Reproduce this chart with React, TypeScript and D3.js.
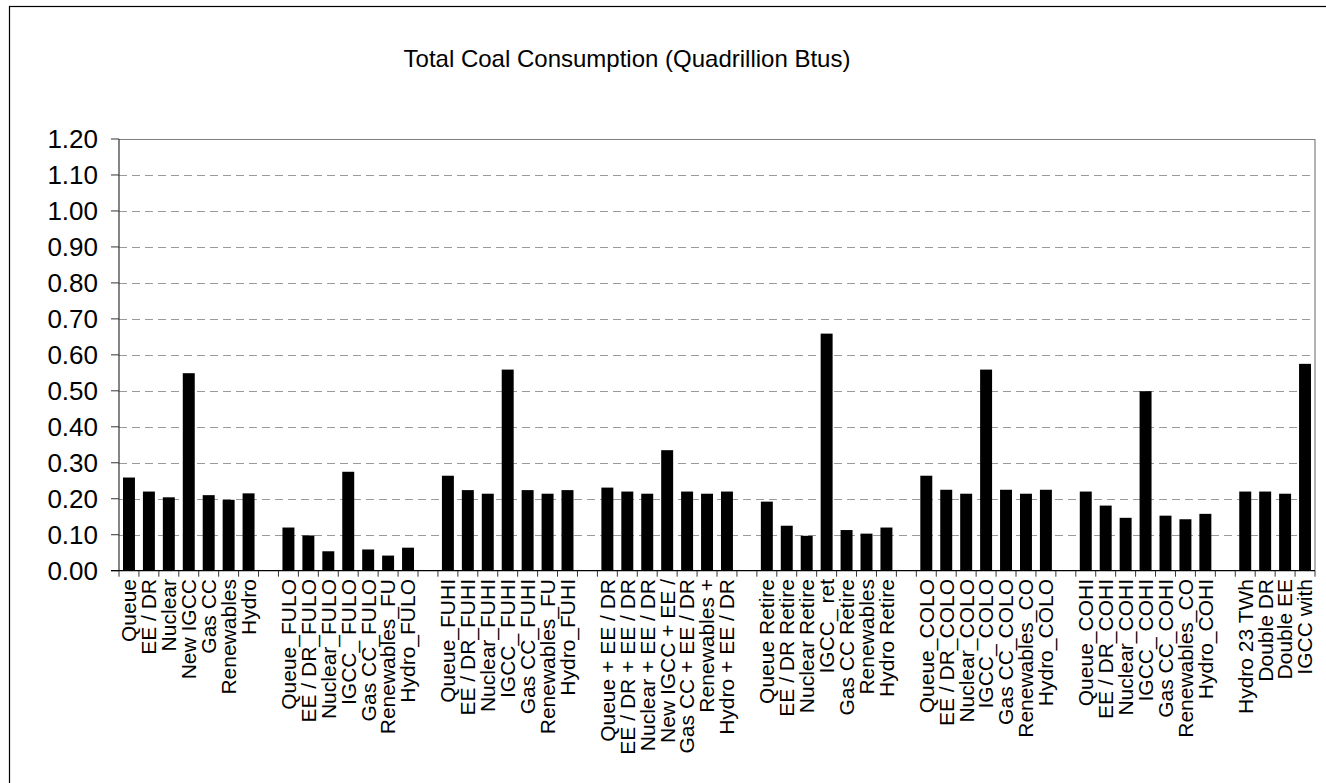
import React from "react";
import * as d3 from "d3";

const TITLE = "Total Coal Consumption (Quadrillion Btus)";

const baseLabels = ["Queue", "EE / DR", "Nuclear", "New IGCC", "Gas CC", "Renewables", "Hydro"];
const baseValues = [0.259, 0.22, 0.204, 0.549, 0.21, 0.197, 0.215];

const fuloLabels = ["Queue_FULO", "EE / DR_FULO", "Nuclear_FULO", "IGCC_ FULO", "Gas CC_FULO", "Renewables_FU", "Hydro_FULO"];
const fuloValues = [0.12, 0.098, 0.054, 0.275, 0.059, 0.042, 0.064];

const fuhiLabels = ["Queue_FUHI", "EE / DR_FUHI", "Nuclear_FUHI", "IGCC_ FUHI", "Gas CC_FUHI", "Renewables_FU", "Hydro_FUHI"];
const fuhiValues = [0.264, 0.224, 0.214, 0.559, 0.224, 0.214, 0.224];

const eedrLabels = ["Queue + EE / DR", "EE / DR + EE / DR", "Nuclear + EE / DR", "New IGCC + EE /", "Gas CC + EE / DR", "Renewables +", "Hydro + EE / DR"];
const eedrValues = [0.231, 0.22, 0.214, 0.335, 0.22, 0.214, 0.22];

const retireLabels = ["Queue Retire", "EE / DR Retire", "Nuclear Retire", "IGCC_ ret", "Gas CC Retire", "Renewables", "Hydro Retire"];
const retireValues = [0.192, 0.125, 0.097, 0.659, 0.113, 0.103, 0.12];

const coloLabels = ["Queue_COLO", "EE / DR_COLO", "Nuclear_COLO", "IGCC_ COLO", "Gas CC_COLO", "Renewables_CO", "Hydro_COLO"];
const coloValues = [0.264, 0.225, 0.214, 0.559, 0.225, 0.214, 0.225];

const cohiLabels = ["Queue_COHI", "EE / DR_COHI", "Nuclear_COHI", "IGCC_ COHI", "Gas CC_COHI", "Renewables_CO", "Hydro_COHI"];
const cohiValues = [0.22, 0.181, 0.147, 0.499, 0.153, 0.143, 0.158];

const otherLabels = ["Hydro 23 TWh", "Double DR", "Double EE", "IGCC with"];
const otherValues = [0.22, 0.22, 0.214, 0.575];

const yTickValues = [0, 0.1, 0.2, 0.3, 0.4, 0.5, 0.6, 0.7, 0.8, 0.9, 1.0, 1.1, 1.2];

const groups = [
  [baseLabels, baseValues],
  [fuloLabels, fuloValues],
  [fuhiLabels, fuhiValues],
  [eedrLabels, eedrValues],
  [retireLabels, retireValues],
  [coloLabels, coloValues],
  [cohiLabels, cohiValues],
  [otherLabels, otherValues],
] as [string[], number[]][];

type Slot = { label: string; value: number | null };
const slots: Slot[] = [];
groups.forEach(([labels, values], gi) => {
  labels.forEach((l, i) => slots.push({ label: l, value: values[i] }));
  if (gi < groups.length - 1) slots.push({ label: "", value: null });
});

const FONT = "'Liberation Sans', Arial, Helvetica, sans-serif";

export default function App() {
  const W = 1326;
  const H = 783;
  const left = 119;
  const right = 1315;
  const top = 139;
  const bottom = 570.7;

  const idx = slots.map((_, i) => i);
  const x = d3
    .scaleBand<number>()
    .domain(idx)
    .range([left, right])
    .paddingInner(0.4)
    .paddingOuter(0.2);
  const step = x.step();
  const y = d3.scaleLinear().domain([0, 1.2]).range([bottom, top]);

  const boundaries = d3.range(slots.length + 1).map((k) => left + k * step);

  return (
    <div style={{ position: "absolute", left: 0, top: 0, width: W, height: H, overflow: "hidden" }}>
      <svg width={W} height={H} style={{ display: "block", background: "#fff" }} fontFamily={FONT}>
        <rect x={0} y={0} width={W} height={H} fill="#fff" />
        {/* outer chart frame */}
        <rect x={9.5} y={6.5} width={1400} height={900} fill="none" stroke="#000" strokeWidth={1.2} />
        {/* title */}
        <text x={627} y={67} textAnchor="middle" fontSize={24} fill="#000">
          {TITLE}
        </text>
        {/* gridlines */}
        {yTickValues
          .filter((v) => v > 0 && v < 1.2)
          .map((v) => (
            <line
              key={"g" + v}
              x1={left}
              x2={right}
              y1={Math.round(y(v)) + 0.5}
              y2={Math.round(y(v)) + 0.5}
              stroke="#9a9a9a"
              strokeWidth={1}
              strokeDasharray="8,5"
            />
          ))}
        {/* plot area border top/right */}
        <line x1={left} x2={right} y1={top + 0.5} y2={top + 0.5} stroke="#808080" strokeWidth={1.2} />
        <line x1={right} x2={right} y1={top} y2={bottom} stroke="#808080" strokeWidth={1.2} />
        {/* bars */}
        {slots.map((s, i) =>
          s.value === null ? null : (
            <rect
              key={"b" + i}
              x={x(i)}
              y={y(s.value)}
              width={x.bandwidth()}
              height={bottom - y(s.value)}
              fill="#000"
            />
          )
        )}
        {/* y axis */}
        <line x1={left} x2={left} y1={top} y2={bottom} stroke="#333" strokeWidth={1.2} />
        {yTickValues.map((v) => (
          <g key={"t" + v}>
            <line x1={left - 8} x2={left} y1={y(v)} y2={y(v)} stroke="#333" strokeWidth={1} />
            <text x={98} y={y(v)} dy="0.36em" textAnchor="end" fontSize={26} fill="#000">
              {v.toFixed(2)}
            </text>
          </g>
        ))}
        {/* x axis */}
        <line x1={left - 8} x2={right} y1={bottom} y2={bottom} stroke="#000" strokeWidth={1.2} />
        {boundaries.map((bx, k) => (
          <line key={"xt" + k} x1={bx} x2={bx} y1={bottom} y2={bottom + 6} stroke="#333" strokeWidth={1} />
        ))}
        {slots.map((s, i) =>
          s.label ? (
            <text
              key={"l" + i}
              transform={`translate(${(x(i) as number) + x.bandwidth() / 2},${579}) rotate(-90)`}
              textAnchor="end"
              dy="0.35em"
              fontSize={21}
              fill="#000"
            >
              {s.label}
            </text>
          ) : null
        )}
      </svg>
    </div>
  );
}
